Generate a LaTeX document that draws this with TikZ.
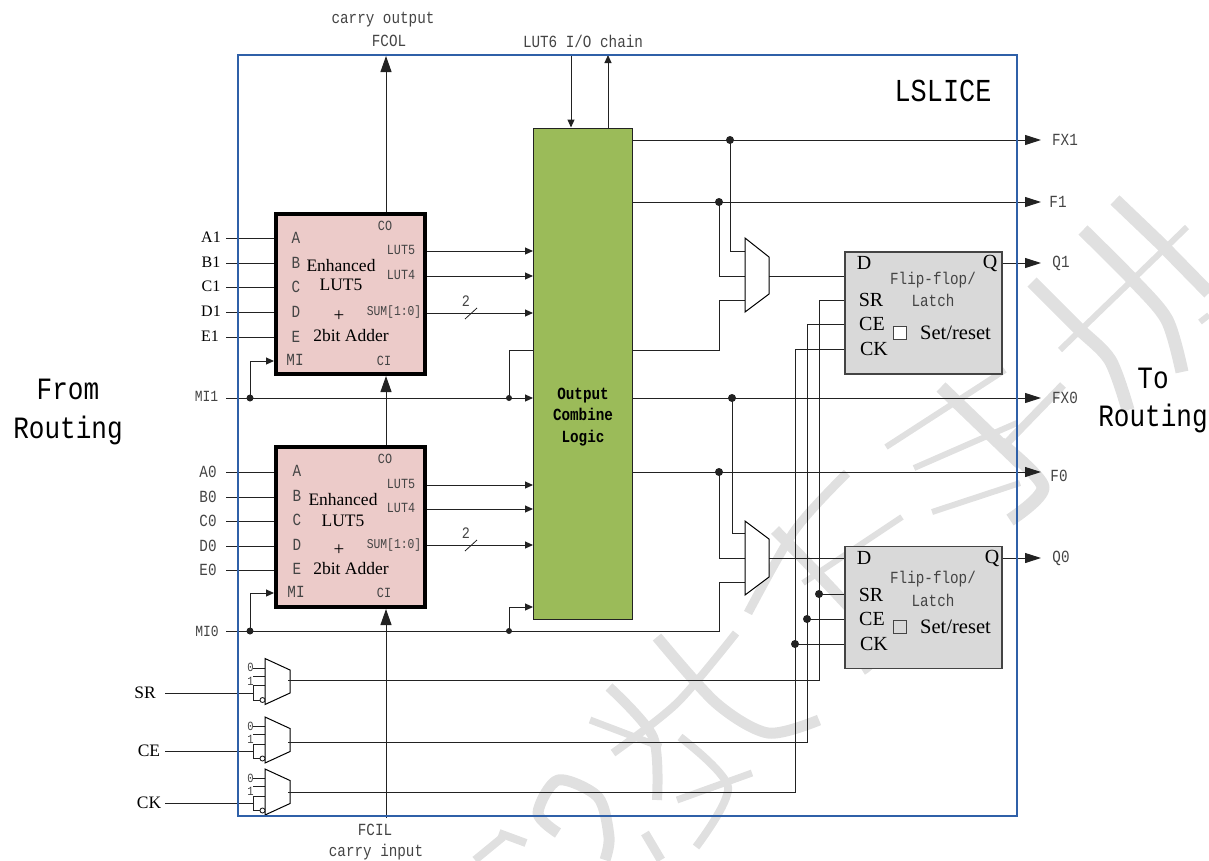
\documentclass[tikz,border=0pt]{standalone}
\usepackage{fontspec}
\setmainfont{Liberation Serif}
\setmonofont[FakeStretch=0.84]{Liberation Mono}
\usetikzlibrary{arrows.meta, calc}
\definecolor{framecolor}{HTML}{2F60A8}
\definecolor{lutcolor}{HTML}{ECCBC9}
\definecolor{olccolor}{HTML}{9BBB59}
\definecolor{ffcolor}{HTML}{D9D9D9}
\definecolor{wirecolor}{HTML}{222222}
\definecolor{markcolor}{HTML}{E0E0E0}
\definecolor{labelcolor}{HTML}{444444}

\begin{document}
\begin{tikzpicture}[
    x=100pt, y=-100pt,
    wire/.style={draw=wirecolor, line width=1pt},
    small/.style={wire, -{Stealth[inset=0pt, length=8pt, width=7pt]}},
    big/.style={wire, -{Stealth[inset=0pt, length=16pt, width=11pt]}},
    outarrow/.style={wire, -{Stealth[inset=0pt, length=16pt, width=10pt]}},
    lutbox/.style={draw=black, fill=lutcolor, line width=4pt, minimum width=149pt, minimum height=160pt, inner sep=0pt},
    ffbox/.style={draw=labelcolor, fill=ffcolor, line width=1.1pt, minimum width=157pt, minimum height=122pt, inner sep=0pt},
    muxbody/.style={draw=black, fill=white, line width=1pt},
    wmark/.style={draw=markcolor, line cap=butt, line join=round},
    serif/.style={font=\fontsize{17.5}{20}\selectfont, text=black, inner sep=0pt},
    ffpin/.style={font=\fontsize{20}{22}\selectfont, text=black, inner sep=0pt},
    inpin/.style={font=\fontsize{16}{18}\selectfont, text=black, inner sep=0pt},
    mono/.style={font=\ttfamily\fontsize{17}{20}\selectfont, text=labelcolor, inner sep=0pt},
    pinlab/.style={font=\ttfamily\fontsize{17}{18}\selectfont, text=labelcolor, inner sep=0pt},
    tiny/.style={font=\ttfamily\fontsize{14}{16}\selectfont, text=labelcolor, inner sep=0pt},
    head/.style={font=\ttfamily\fontsize{32}{34}\selectfont, text=black, inner sep=0pt},
]
\useasboundingbox (0,0) rectangle (12.09,8.60);

% ---------------------------------------------------------------- background strokes
\draw[wmark, line width=13pt] plot[smooth] coordinates {(10.32,2.82) (10.77,3.27) (11.10,3.60) (11.28,4.10)};
\draw[wmark, line width=13pt] plot[smooth] coordinates {(10.83,2.30) (11.33,2.80) (11.67,3.20) (11.82,3.72)};
\draw[wmark, line width=13pt] (11.15,2.00) -- (11.60,2.43) -- (12.09,2.93);
\draw[wmark, line width=6pt] (11.87,2.27) -- (10.60,3.50);
\draw[wmark, line width=6pt] (12.09,3.15) -- (12.00,3.22);
\draw[wmark, line width=8pt] (10.63,3.85) -- (10.00,4.50);
\draw[wmark, line width=13pt] plot[smooth] coordinates {(10.00,4.43) (10.43,4.87) (10.10,5.20)};
\draw[wmark, line width=6pt] (10.05,3.70) -- (8.86,4.47);
\draw[wmark, line width=13pt] (9.41,3.87) -- (10.20,4.63);
\draw[wmark, line width=6pt] (10.17,4.23) -- (9.14,4.68);
\draw[wmark, line width=6pt] (10.20,4.83) -- (9.32,5.12);
\draw[wmark, line width=9pt] plot[smooth] coordinates {(8.47,4.73) (7.95,5.30) (7.48,6.13)};
\draw[wmark, line width=11pt] plot[smooth] coordinates {(7.75,5.30) (8.74,6.37) (8.62,6.70)};
\draw[wmark, line width=6pt] (9.02,5.17) -- (8.03,5.83);
\draw[wmark, line width=11pt] plot[smooth] coordinates {(6.57,6.37) (7.16,7.03) (7.68,7.33) (8.19,7.20)};
\draw[wmark, line width=8pt] plot[smooth] coordinates {(7.36,6.33) (6.77,7.03) (6.13,7.53)};
\draw[wmark, line width=10pt] plot[smooth] coordinates {(6.09,6.87) (6.53,7.37) (6.57,8.00)};
\draw[wmark, line width=7pt] (5.90,7.20) -- (6.61,7.47);
\draw[wmark, line width=7pt] (7.52,7.73) -- (6.77,8.00);
\draw[wmark, line width=8pt] plot[smooth] coordinates {(6.80,7.37) (7.28,7.87) (6.96,8.47)};
\draw[wmark, line width=11pt] plot[smooth] coordinates {(5.58,8.33) (5.38,8.13) (5.58,7.80) (5.98,7.97) (6.09,8.37) (6.05,8.60)};
\draw[wmark, line width=8pt] (5.03,8.37) -- (4.75,8.60);
\draw[wmark, line width=8pt] (4.99,8.33) -- (5.26,8.43);
\draw[wmark, line width=9pt] (6.45,8.33) -- (6.61,8.60);

% ---------------------------------------------------------------- blocks
\node[lutbox] (lutTop) at (3.505,2.94) {};
\node[lutbox] (lutBot) at (3.505,5.27) {};
\node[ffbox] (ffTop) at (9.235,3.13) {};
\node[ffbox] (ffBot) at (9.235,6.075) {};

% wire that runs behind the green block
\coordinate (selTop) at (5.09,3.98);
\draw[wire] (selTop) |- (7.19,3.50) -- (7.19,3.00) -- (7.45,3.00);

\node[draw=wirecolor, fill=olccolor, line width=1pt, minimum width=99pt, minimum height=491pt, inner sep=0pt] (olc) at (5.83,3.735) {};
\node[mono, font=\ttfamily\bfseries\fontsize{17}{20}\selectfont, text=black, align=center] (olcText) at (5.83,4.17) {Output\\[1.5pt]Combine\\[1.5pt]Logic};

% ---------------------------------------------------------------- inputs of the LUTs
\foreach \y/\name/\lx in {2.38/A1/2.11, 2.63/B1/2.11, 2.87/C1/2.11, 3.12/D1/2.11, 3.37/E1/2.10}{
    \node[inpin] (lab\name) at (\lx, {\y-0.005}) {\name};
    \coordinate (in\name) at (2.26, \y);
    \draw[wire] (in\name) -- (lutTop.west |- in\name);
}
\foreach \y/\name in {4.72/A0, 4.97/B0, 5.21/C0, 5.46/D0, 5.70/E0}{
    \node[mono] (lab\name) at (2.08, {\y-0.005}) {\name};
    \coordinate (in\name) at (2.26, \y);
    \draw[wire] (in\name) -- (lutBot.west |- in\name);
}
\foreach \y/\name in {2.38/A, 2.63/B, 2.87/C, 3.12/D, 3.37/E}{
    \node[pinlab] (top\name) at (2.96, \y) {\name};
}
\foreach \y/\name in {4.71/A, 4.96/B, 5.20/C, 5.45/D, 5.69/E}{
    \node[pinlab] (bot\name) at (2.97, \y) {\name};
}
\node[pinlab] (topMI) at (2.95,3.60) {MI};
\node[pinlab] (botMI) at (2.96,5.92) {MI};

% text in the LUT blocks
\node[serif] (topName) at (3.41,2.66) {Enhanced};
\node[serif] (topLut) at (3.41,2.85) {LUT5};
\node[serif, font=\fontsize{19}{20}\selectfont] (topPlus) at (3.39,3.16) {+};
\node[serif] (topAdd) at (3.51,3.36) {2bit Adder};
\node[serif] (botName) at (3.43,5.00) {Enhanced};
\node[serif] (botLut) at (3.43,5.21) {LUT5};
\node[serif, font=\fontsize{19}{20}\selectfont] (botPlus) at (3.39,5.50) {+};
\node[serif] (botAdd) at (3.51,5.69) {2bit Adder};
\foreach \blk/\yco/\yci/\ya/\yb/\yc in {top/2.26/3.61/2.50/2.75/3.12, bot/4.59/5.93/4.84/5.08/5.45}{
    \node[tiny] (\blk CO) at (3.85,\yco) {CO};
    \node[tiny] (\blk CI) at (3.84,\yci) {CI};
    \node[tiny] (\blk LUTfive) at (4.01,\ya) {LUT5};
    \node[tiny] (\blk LUTfour) at (4.01,\yb) {LUT4};
    \node[tiny, font=\ttfamily\fontsize{13.5}{16}\selectfont] (\blk SUM) at (3.94,\yc) {SUM[1:0]};
}

% ---------------------------------------------------------------- LUT outputs
\foreach \y in {2.51,2.76,3.13,4.85,5.09,5.45}{
    \draw[small] (lutTop.east |- 0,\y) -- (olc.west |- 0,\y);
}
\foreach \y/\name in {3.13/a, 5.45/b}{
    \draw[wire, line width=0.8pt] (4.65,{\y+0.06}) -- (4.77,{\y-0.05});
    \node[pinlab, font=\ttfamily\fontsize{16}{18}\selectfont] (width\name) at (4.66,{\y-0.12}) {2};
}

% ---------------------------------------------------------------- mode inputs
\node[mono, font=\ttfamily\fontsize{15.5}{18}\selectfont] (labMIone) at (2.065,3.96) {MI1};
\node[mono, font=\ttfamily\fontsize{15.5}{18}\selectfont] (labMIzero) at (2.07,6.31) {MI0};
\coordinate (inMIone) at (2.26,3.98);
\coordinate (inMIzero) at (2.26,6.31);
\coordinate (selBot) at (5.09,6.31);
\coordinate (tapOne) at (2.50,3.98);
\coordinate (tapZero) at (2.50,6.31);
\draw[small] (inMIone) -- (olc.west |- inMIone);
\draw[small] (tapOne) |- (lutTop.west |- 0,3.61);
\draw[small] (tapZero) |- (lutBot.west |- 0,5.93);
\draw[small] (selBot) |- (olc.west |- 0,6.07);
\draw[wire] (inMIzero) -- (7.19,6.31) -- (7.19,5.82) -- (7.45,5.82);
\foreach \p in {tapOne,tapZero}{
    \fill[wirecolor] (\p) circle (3.5pt);
}
\foreach \p in {selTop,selBot}{
    \fill[wirecolor] (\p) circle (3pt);
}

% ---------------------------------------------------------------- carry chain
\coordinate (carryOut) at (3.86,0.56);
\coordinate (carryIn) at (3.86,8.18);
\draw[big] (lutTop.north -| carryOut) -- (carryOut);
\draw[big] (lutBot.north -| carryOut) -- (lutTop.south -| carryOut);
\draw[big] (carryIn) -- (lutBot.south -| carryIn);
\node[mono] (labFCOL) at (3.89,0.41) {FCOL};
\node[mono] (labCout) at (3.83,0.20) {carry output};
\node[mono] (labFCIL) at (3.75,8.30) {FCIL};
\node[mono] (labCin) at (3.76,8.52) {carry input};

% ---------------------------------------------------------------- I/O chain
\node[mono] (labChain) at (5.83,0.41) {LUT6 I/O chain};
\coordinate (chainIn) at (5.71,0.55);
\coordinate (chainOut) at (6.08,0.55);
\draw[small] (chainIn) -- (olc.north -| chainIn);
\draw[small] (olc.north -| chainOut) -- (chainOut);

% ---------------------------------------------------------------- outputs
\foreach \y/\name/\lx in {1.40/FX1/10.65, 2.02/F1/10.58, 3.98/FX0/10.65, 4.72/F0/10.59}{
    \coordinate (out\name) at (10.41,\y);
    \draw[outarrow] (olc.east |- out\name) -- (out\name);
    \node[mono] (lab\name) at (\lx,{\y+(\y>4.5?0.04:0)}) {\name};
}
\foreach \y/\name/\blk in {2.63/Q1/ffTop, 5.58/Q0/ffBot}{
    \coordinate (out\name) at (10.41,\y);
    \draw[outarrow] (\blk.east |- out\name) -- (out\name);
    \node[mono] (lab\name) at (10.61,\y) {\name};
}
\foreach \x/\y in {7.30/1.40, 7.19/2.02, 7.32/3.98, 7.19/4.72}{
    \fill[wirecolor] (\x,\y) circle (4pt);
}

% ---------------------------------------------------------------- output muxes
\draw[wire] (7.30,1.40) |- (7.45,2.51);
\draw[wire] (7.19,2.02) |- (7.45,2.76);
\draw[wire] (7.32,3.98) |- (7.45,5.33);
\draw[wire] (7.19,4.72) |- (7.45,5.58);
\draw[wire] (7.69,2.76) -- (ffTop.west |- 0,2.76);
\draw[wire] (7.69,5.58) -- (ffBot.west |- 0,5.58);
\draw[muxbody] (7.45,2.38) -- (7.69,2.57) -- (7.69,2.94) -- (7.45,3.12) -- cycle;
\draw[muxbody] (7.45,5.21) -- (7.69,5.39) -- (7.69,5.77) -- (7.45,5.95) -- cycle;

% ---------------------------------------------------------------- control muxes
\foreach \top/\name/\lx in {6.585/SR/1.45, 7.17/CE/1.49, 7.69/CK/1.49}{
    \begin{scope}[shift={(0,\top)}]
        \coordinate (in\name) at (1.65,0.345);
        \node[inpin, font=\fontsize{17.5}{20}\selectfont] (lab\name) at (\lx,0.34) {\name};
        \draw[wire] (in\name) -- (2.53,0.345);
        \draw[wire] (2.53,0.095) -- (2.65,0.095);
        \draw[wire] (2.53,0.175) -- (2.65,0.175);
        \draw[wire] (2.65,0.27) -- (2.53,0.27) -- (2.53,0.415) -- (2.60,0.415);
        \draw[muxbody] (2.65,0) -- (2.90,0.115) -- (2.90,0.345) -- (2.65,0.46) -- cycle;
        \draw[wire, fill=white, line width=0.9pt] (2.625,0.415) circle (2.5pt);
        \node[tiny, font=\ttfamily\fontsize{12.5}{14}\selectfont] (zero\name) at (2.505,0.09) {0};
        \node[tiny, font=\ttfamily\fontsize{12.5}{14}\selectfont] (one\name) at (2.505,0.225) {1};
    \end{scope}
}

% ---------------------------------------------------------------- clock and reset routing
\foreach \name/\x/\ya/\yb/\yc in {SR/8.19/3.00/5.94/6.80, CE/8.07/3.245/6.19/7.42, CK/7.95/3.49/6.44/7.92}{
    \coordinate (out\name) at (2.88,\yc);
    \draw[wire] (out\name) -- (\x,\yc) -- (\x,\ya) -- (ffTop.west |- 0,\ya);
    \draw[wire] (\x,\yb) -- (ffBot.west |- 0,\yb);
    \fill[wirecolor] (\x,\yb) circle (4pt);
}

% ---------------------------------------------------------------- flip-flops
\foreach \blk/\yd/\yf/\yl/\ys/\yc/\yk/\ybx/\xq/\sqfill in {ffTop/2.63/2.80/3.00/3.00/3.24/3.49/3.325/9.90/white, ffBot/5.58/5.79/6.00/5.95/6.19/6.44/6.265/9.92/ffcolor}{
    \node[ffpin] (\blk D) at (8.64,\yd) {D};
    \node[ffpin] (\blk Q) at (\xq,\yd) {Q};
    \node[ffpin] (\blk SR) at (8.71,\ys) {SR};
    \node[ffpin] (\blk CE) at (8.72,\yc) {CE};
    \node[ffpin] (\blk CK) at (8.74,\yk) {CK};
    \node[mono] (\blk Flip) at (9.33,\yf) {Flip-flop/};
    \node[mono] (\blk Latch) at (9.33,\yl) {Latch};
    \node[draw=labelcolor, fill=\sqfill, line width=1pt, minimum size=13pt, inner sep=0pt] (\blk Square) at (8.995,\ybx) {};
    \node[ffpin, font=\fontsize{20.5}{22}\selectfont] (\blk Set) at (9.555,{\ybx+0.005}) {Set/reset};
}

% ---------------------------------------------------------------- frame and titles
\draw[framecolor, line width=2pt] (2.38,0.55) rectangle (10.17,8.16);
\node[head] (labTitle) at (9.43,0.91) {LSLICE};
\node[head, font=\ttfamily\fontsize{31}{32}\selectfont, align=center] (labFrom) at (0.68,4.12) {From\\[7pt]Routing};
\node[head, font=\ttfamily\fontsize{31}{32}\selectfont, align=center] (labTo) at (11.53,4.00) {To\\[6pt]Routing};

\end{tikzpicture}
\end{document}
